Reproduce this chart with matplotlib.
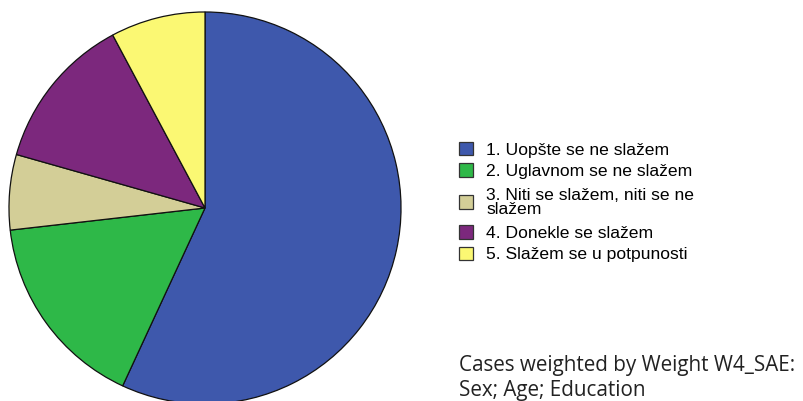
import matplotlib
matplotlib.use("Agg")
import matplotlib.pyplot as plt

# share of responses (%)
labels = [
    "1. Uopšte se ne slažem",
    "2. Uglavnom se ne slažem",
    "3. Niti se slažem, niti se ne\nslažem",
    "4. Donekle se slažem",
    "5. Slažem se u potpunosti",
]
values = [56.9, 16.3, 6.2, 12.8, 7.8]
colors = ["#3E58AC", "#2EB848", "#D3CE97", "#7C287D", "#FBF873"]

W, H = 804, 401
fig = plt.figure(figsize=(W / 100, H / 100), dpi=100)

# pie: center ~(205, 208) px, radius ~197 px
cx, cy, r = 205, 208, 197
ax = fig.add_axes([(cx - r) / W, (H - cy - r) / H, 2 * r / W, 2 * r / H])
wedges, _ = ax.pie(values, colors=colors, startangle=90, counterclock=False,
                   radius=1.0,
                   wedgeprops=dict(edgecolor="#111111", linewidth=0.9))
ax.set_xlim(-1.005, 1.005)
ax.set_ylim(-1.005, 1.005)
ax.set_aspect("equal")
ax.axis("off")

leg = fig.legend(wedges, labels, loc="upper left",
                 bbox_to_anchor=(456 / W, 1 - 142 / H),
                 frameon=False, handlelength=0.8, handleheight=0.8,
                 handletextpad=0.75, labelspacing=0.32, borderaxespad=0,
                 borderpad=0,
                 prop={"family": "Liberation Sans", "size": 12.6})
for t in leg.get_texts():
    t.set_linespacing(0.9)
for h in leg.legend_handles:
    h.set_edgecolor("#333333")
    h.set_linewidth(0.9)

# the two-line entry sits a bit looser in the original
try:
    rows = [row for col in leg._legend_handle_box.get_children()
            for row in col.get_children()]
    rows[2].pad = 2.2
except Exception:
    pass

fig.text(459 / W, 1 - 378 / H, "Cases weighted by Weight W4_SAE:\nSex; Age; Education",
         ha="left", va="center", fontsize=14.9, family="Open Sans",
         color="#222222", linespacing=1.22)

fig.savefig("out.png", dpi=100)
